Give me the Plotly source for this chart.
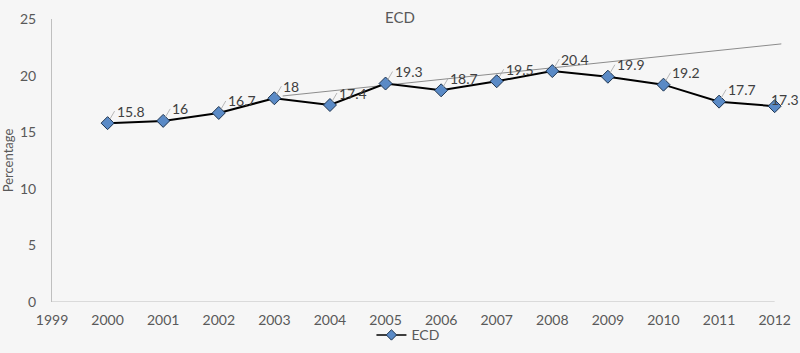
import plotly.graph_objects as go

years = [2000, 2001, 2002, 2003, 2004, 2005, 2006, 2007, 2008, 2009, 2010, 2011, 2012]
ecd = [15.8, 16, 16.7, 18, 17.4, 19.3, 18.7, 19.5, 20.4, 19.9, 19.2, 17.7, 17.3]
labels = ["15.8", "16", "16.7", "18", "17.4", "19.3", "18.7", "19.5", "20.4", "19.9", "19.2", "17.7", "17.3"]
trend_years = [2003.15, 2012.12]
trend_vals = [18.2, 22.8]
x_ticks = list(range(1999, 2013))
y_ticks = [0, 5, 10, 15, 20, 25]

font_family = "Lato, 'Open Sans', sans-serif"
txt = "#595959"

fig = go.Figure()
fig.add_trace(go.Scatter(
    x=trend_years, y=trend_vals, mode="lines",
    line=dict(color="#8c8c8c", width=1), showlegend=False, hoverinfo="skip"))
fig.add_trace(go.Scatter(
    x=years, y=ecd, mode="lines+markers", name="ECD", showlegend=False,
    line=dict(color="#000000", width=2),
    marker=dict(symbol="diamond", size=10, color="#5a8ac6",
                line=dict(color="#1f3550", width=1)),
    cliponaxis=False))
# legend entry (thin line, small diamond)
fig.add_trace(go.Scatter(
    x=[None], y=[None], mode="lines+markers", name="ECD",
    line=dict(color="#000000", width=1.5),
    marker=dict(symbol="diamond", size=8, color="#5a8ac6",
                line=dict(color="#1f3550", width=1))))

n = len(years)
for i, (x, y, t) in enumerate(zip(years, ecd, labels)):
    last = i == n - 1
    fig.add_annotation(
        x=x, y=y, text=t, showarrow=not last, arrowhead=0, arrowwidth=0.8,
        arrowcolor="#a6a6a6", ax=7, ay=-12, xanchor="left", yanchor="middle",
        xshift=-6 if last else 0, yshift=7 if last else 0,
        standoff=4, font=dict(family=font_family, size=14, color="#404040"))

fig.add_shape(type="line", xref="x", yref="y", x0=1999, x1=2012, y0=0, y1=0,
              line=dict(color="#bfbfbf", width=1))

fig.update_layout(
    width=800, height=353,
    margin=dict(l=52, r=17, t=19, b=51, autoexpand=False),
    paper_bgcolor="#f6f6f6", plot_bgcolor="rgba(0,0,0,0)",
    font=dict(family=font_family, color=txt, size=14),
    title=dict(text="ECD", x=0.5, xanchor="center", y=0.95, yanchor="middle",
               font=dict(size=15, color=txt, family=font_family)),
    showlegend=True,
    legend=dict(orientation="h", x=0.437, xanchor="left", yref="container",
                y=0.05, yanchor="middle",
                font=dict(size=14, color=txt), bgcolor="rgba(0,0,0,0)",
                itemwidth=30),
    xaxis=dict(range=[1999, 2012.15], tickmode="array", tickvals=x_ticks,
               ticktext=[str(v) for v in x_ticks], showgrid=False, zeroline=False,
               showline=False, ticks="", ticklabelstandoff=8,
               tickfont=dict(size=14, color=txt)),
    yaxis=dict(range=[0, 25], tickmode="array", tickvals=y_ticks, showgrid=False,
               zeroline=False, showline=True, linecolor="#bfbfbf", linewidth=1,
               ticks="", ticklabelstandoff=12,
               title=dict(text="Percentage", standoff=6, font=dict(size=13, color=txt)),
               tickfont=dict(size=14, color=txt)),
)

fig.write_html("out.html")
